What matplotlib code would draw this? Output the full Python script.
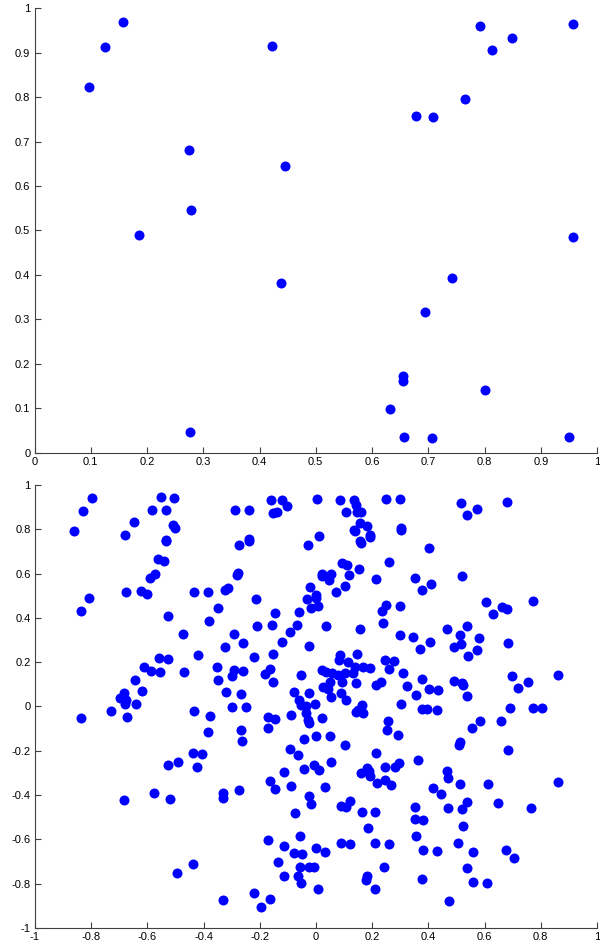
import matplotlib
matplotlib.use('Agg')
import matplotlib.pyplot as plt
from matplotlib.ticker import FuncFormatter

plt.rcParams['font.family'] = ['Liberation Sans', 'DejaVu Sans']
plt.rcParams['axes.unicode_minus'] = False

# top panel: points in the unit square
top_x = [0.096, 0.126, 0.157, 0.422, 0.275, 0.445, 0.278, 0.186, 0.438, 0.276,
         0.792, 0.957, 0.849, 0.814, 0.765, 0.678, 0.709, 0.957, 0.742, 0.695,
         0.655, 0.655, 0.800, 0.632, 0.656, 0.706, 0.950]
top_y = [0.823, 0.913, 0.970, 0.916, 0.680, 0.646, 0.547, 0.489, 0.381, 0.046,
         0.959, 0.965, 0.934, 0.905, 0.795, 0.758, 0.755, 0.485, 0.392, 0.317,
         0.173, 0.162, 0.142, 0.098, 0.036, 0.032, 0.035]

# bottom panel: points in [-1, 1] x [-1, 1]
bottom_x = [
    -0.798, -0.830, -0.861, -0.648, -0.679, -0.553, -0.504, -0.584, -0.535, -0.510,
    -0.502, -0.534, -0.534, -0.563, -0.541, -0.572, -0.591, -0.677, -0.622, -0.602,
    -0.807, -0.837, -0.527, -0.433, -0.383, -0.348, -0.381,
    -0.288, -0.237, -0.160, -0.122, -0.104, -0.152, -0.139, 0.005, 0.084, 0.134,
    0.141, 0.108, 0.145, 0.159, 0.156, 0.180, 0.136, 0.139, 0.192, 0.193,
    0.157, 0.159, 0.250, 0.300, 0.301, 0.301, 0.012, -0.030, -0.237, -0.238,
    -0.275, 0.093, 0.111, 0.153, 0.261, 0.020, 0.022, 0.052, 0.046, 0.117,
    0.212, 0.104, 0.070, -0.020, -0.001, -0.001, -0.032, 0.006, -0.019, -0.282,
    -0.278, -0.324, -0.314, -0.212, -0.146, -0.062, -0.210, -0.156, -0.068, 0.036,
    0.155, 0.240, 0.234, 0.250, 0.300,
    0.515, 0.538, 0.573, 0.681, 0.402, 0.353, 0.376, 0.410, 0.520, 0.606,
    0.663, 0.681, 0.630, 0.772, 0.537,
    -0.473, -0.421, -0.353, -0.350, -0.558, -0.526, -0.613, -0.587, -0.556, -0.470,
    -0.644, -0.618, -0.684, -0.698, -0.676, -0.679, -0.641, -0.728, -0.672, -0.837,
    -0.433, -0.376, -0.383, -0.437, -0.405, -0.492, -0.528, -0.422,
    0.299, -0.291, -0.323, -0.259, -0.091, -0.121, -0.026, -0.220, -0.152, -0.292,
    -0.300, -0.261, -0.181, -0.164, -0.152, -0.053, -0.321, -0.268, -0.298, -0.248,
    -0.077, -0.025, -0.060, -0.053, -0.036, -0.002, -0.037, -0.030, -0.025, -0.089,
    0.020, -0.171, -0.146, -0.171, -0.268, -0.262, -0.043, -0.001, 0.049, -0.093,
    -0.064, -0.042, -0.008, 0.010, 0.054, 0.103, 0.215, 0.246, 0.281, 0.296,
    0.085, 0.082, 0.113, 0.145, 0.139, 0.168, 0.192, 0.246, 0.279, 0.260,
    0.311, 0.022, 0.035, 0.056, 0.079, 0.103, 0.133, 0.050, 0.091, 0.143,
    0.026, 0.044, 0.053, 0.089, 0.107, 0.215, 0.231, 0.301, 0.163, 0.141,
    0.168, 0.148, 0.255, 0.252, 0.293,
    0.346, 0.405, 0.369, 0.467, 0.512, 0.579, 0.491, 0.517, 0.574, 0.540,
    0.682, 0.378, 0.324, 0.403, 0.433, 0.355, 0.490, 0.518, 0.524, 0.536,
    0.378, 0.394, 0.430, 0.698, 0.753, 0.719, 0.862, 0.689, 0.772, 0.803,
    0.583, 0.556, 0.658, 0.514, 0.509, 0.682, 0.362,
    -0.684, -0.575, -0.519, -0.438, -0.495,
    -0.330, -0.330, -0.330, -0.274, -0.164, -0.113, -0.146, -0.090, -0.024, -0.017,
    0.031, -0.074, 0.160, 0.180, 0.190, 0.192, 0.217, 0.247, 0.266, 0.089,
    0.106, 0.120, 0.164, 0.209, 0.185, -0.172, -0.057, -0.113, -0.079, -0.049,
    -0.001, 0.033, 0.089, 0.120, 0.210, 0.260, -0.136, -0.056, -0.026, -0.006,
    -0.114, -0.063, -0.052, 0.006, 0.183, 0.179, 0.210, 0.241, -0.221, -0.163,
    -0.196,
    0.467, 0.469, 0.511, 0.613, 0.862, 0.417, 0.446, 0.353, 0.470, 0.520,
    0.537, 0.647, 0.765, 0.353, 0.380, 0.524, 0.356, 0.505, 0.380, 0.431,
    0.560, 0.675, 0.705, 0.536, 0.378, 0.560, 0.610, 0.474,
]
bottom_y = [
    0.941, 0.884, 0.794, 0.834, 0.776, 0.944, 0.940, 0.887, 0.886, 0.821,
    0.806, 0.753, 0.746, 0.666, 0.658, 0.598, 0.581, 0.516, 0.523, 0.509,
    0.490, 0.430, 0.409, 0.518, 0.518, 0.445, 0.385,
    0.889, 0.886, 0.931, 0.931, 0.907, 0.874, 0.878, 0.937, 0.934, 0.932,
    0.911, 0.880, 0.877, 0.877, 0.830, 0.814, 0.798, 0.791, 0.776, 0.767,
    0.749, 0.740, 0.938, 0.935, 0.806, 0.797, 0.770, 0.730, 0.755, 0.746,
    0.728, 0.649, 0.637, 0.621, 0.652, 0.597, 0.588, 0.597, 0.571, 0.592,
    0.577, 0.545, 0.517, 0.538, 0.505, 0.490, 0.485, 0.455, 0.443, 0.595,
    0.603, 0.527, 0.535, 0.487, 0.423, 0.427, 0.363, 0.369, 0.369, 0.365,
    0.348, 0.378, 0.430, 0.457, 0.455,
    0.919, 0.865, 0.893, 0.925, 0.716, 0.581, 0.527, 0.554, 0.588, 0.472,
    0.448, 0.442, 0.418, 0.478, 0.363,
    0.329, 0.233, 0.177, 0.121, 0.218, 0.214, 0.177, 0.160, 0.157, 0.156,
    0.120, 0.070, 0.062, 0.038, 0.029, 0.011, 0.011, -0.020, -0.046, -0.052,
    -0.019, -0.044, -0.117, -0.209, -0.213, -0.251, -0.266, -0.272,
    0.323, 0.327, 0.270, 0.285, 0.335, 0.291, 0.272, 0.222, 0.236, 0.165,
    0.138, 0.160, 0.147, 0.168, 0.111, 0.141, 0.064, 0.056, -0.001, -0.004,
    0.067, 0.062, 0.029, 0.005, 0.002, 0.010, -0.028, -0.061, -0.073, -0.037,
    -0.053, -0.046, -0.058, -0.098, -0.107, -0.157, -0.145, -0.133, -0.132, -0.191,
    -0.220, -0.282, -0.266, -0.287, -0.252, -0.175, -0.211, -0.272, -0.272, -0.256,
    0.231, 0.210, 0.202, 0.237, 0.180, 0.180, 0.172, 0.210, 0.207, 0.171,
    0.150, 0.165, 0.157, 0.150, 0.142, 0.153, 0.150, 0.112, 0.111, 0.107,
    0.089, 0.078, 0.042, 0.060, 0.029, 0.096, 0.112, 0.011, 0.007, -0.023,
    -0.031, -0.016, -0.064, -0.107, -0.129,
    0.315, 0.290, 0.261, 0.349, 0.321, 0.309, 0.270, 0.282, 0.256, 0.228,
    0.287, 0.126, 0.094, 0.079, 0.076, 0.052, 0.116, 0.107, 0.096, 0.049,
    -0.010, -0.011, -0.014, 0.138, 0.111, 0.082, 0.142, -0.008, -0.005, -0.005,
    -0.065, -0.098, -0.064, -0.160, -0.175, -0.195, -0.242,
    -0.421, -0.389, -0.416, -0.712, -0.753,
    -0.872, -0.391, -0.414, -0.376, -0.336, -0.297, -0.371, -0.360, -0.405, -0.440,
    -0.365, -0.482, -0.299, -0.279, -0.290, -0.312, -0.347, -0.332, -0.354, -0.448,
    -0.455, -0.427, -0.478, -0.478, -0.550, -0.604, -0.586, -0.628, -0.661, -0.664,
    -0.637, -0.657, -0.618, -0.619, -0.615, -0.619, -0.702, -0.723, -0.726, -0.726,
    -0.764, -0.767, -0.795, -0.823, -0.765, -0.782, -0.824, -0.725, -0.841, -0.868,
    -0.904,
    -0.290, -0.321, -0.349, -0.351, -0.339, -0.367, -0.395, -0.452, -0.457, -0.461,
    -0.433, -0.434, -0.458, -0.508, -0.511, -0.541, -0.586, -0.616, -0.648, -0.652,
    -0.657, -0.649, -0.685, -0.730, -0.779, -0.791, -0.795, -0.877,
]

top_ticks = [i / 10 for i in range(11)]
bottom_ticks = [-1 + i * 0.2 for i in range(11)]


def style_axes(ax, ticks):
    for side in ['top', 'right']:
        ax.spines[side].set_visible(False)
    for side in ['left', 'bottom']:
        ax.spines[side].set_color('#404040')
        ax.spines[side].set_linewidth(0.8)
    ax.set_xticks(ticks)
    ax.set_yticks(ticks)
    fmt = FuncFormatter(lambda v, pos: '%g' % round(v, 1))
    ax.xaxis.set_major_formatter(fmt)
    ax.yaxis.set_major_formatter(fmt)
    ax.tick_params(direction='in', length=4, width=0.8, color='#404040',
                   labelsize=8, pad=3)


fig = plt.figure(figsize=(6, 9.47), dpi=100)

ax1 = fig.add_axes([0.0575, 0.522, 0.9375, 0.4693])
ax1.plot(top_x, top_y, 'o', color='blue', markersize=7.2, markeredgewidth=0)
ax1.set_xlim(0, 1)
ax1.set_ylim(0, 1)
style_axes(ax1, top_ticks)

ax2 = fig.add_axes([0.0583, 0.0201, 0.9367, 0.4678])
ax2.plot(bottom_x, bottom_y, 'o', color='blue', markersize=7.2, markeredgewidth=0)
ax2.set_xlim(-1, 1)
ax2.set_ylim(-1, 1)
style_axes(ax2, bottom_ticks)

fig.savefig('out.png', dpi=100)
